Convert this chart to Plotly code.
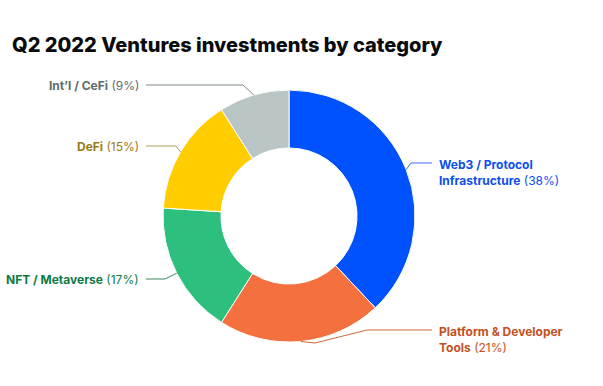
import math
import plotly.graph_objects as go

# ---- data ----
categories = ["Web3 / Protocol Infrastructure", "Platform & Developer Tools",
              "NFT / Metaverse", "DeFi", "Int'l / CeFi"]
values = [38, 21, 17, 15, 9]
label_bold = [["Web3 / Protocol", "Infrastructure"], ["Platform & Developer", "Tools"],
              ["NFT / Metaverse"], ["DeFi"], ["Int\u2019l / CeFi"]]
slice_colors = ["#0052FF", "#F4703F", "#2DBF7E", "#FFCD00", "#B9C6C5"]
text_colors = ["#0B4FEF", "#C4501E", "#0E7A46", "#9A7A17", "#5E6C6C"]
line_colors = ["#3B6FF0", "#D0683A", "#3A8A5E", "#B09A5A", "#7E8A8A"]

W, H = 603, 386
CX, CY, R = 289, 216, 126
HOLE = 0.54

# label layout (pixel positions of label text anchor / leader bend), per category
label_layout = [
    dict(side="right", tx=437, ty=163, bend=[(411, 163)]),
    dict(side="right", tx=437, ty=330, bend=[(315, 343), (367, 330)]),
    dict(side="left", tx=141, ty=279, bend=[(165, 279)]),
    dict(side="left", tx=141, ty=146, bend=[(176, 146)]),
    dict(side="left", tx=141, ty=85, bend=[(243, 85)]),
]

def px(x):
    return x / W

def py(y):
    return 1 - y / H

fig = go.Figure()
fig.add_trace(go.Pie(
    labels=categories, values=values, hole=HOLE, sort=False, direction="clockwise",
    rotation=0, marker=dict(colors=slice_colors, line=dict(color="white", width=1)),
    textinfo="none", hoverinfo="skip", showlegend=False,
    domain=dict(x=[px(CX - R), px(CX + R)], y=[py(CY + R), py(CY - R)]),
))

shapes = []
annotations = []
total = sum(values)
cum = 0
for i, v in enumerate(values):
    mid = (cum + v / 2) / total * 2 * math.pi
    cum += v
    ex = CX + R * math.sin(mid)
    ey = CY - R * math.cos(mid)
    L = label_layout[i]
    pts = [(ex, ey)] + L["bend"]
    if L["side"] == "left":
        pts.append((L["tx"] + 5, L["ty"]))
    else:
        pts.append((L["tx"] - 5, L["ty"]))
    path = "M " + " L ".join(f"{px(x):.5f},{py(y):.5f}" for x, y in pts)
    shapes.append(dict(type="path", path=path, xref="paper", yref="paper",
                       line=dict(color=line_colors[i], width=1)))
    parts = label_bold[i]
    pct = f"<span style='font-weight:400'>({v}%)</span>"
    if len(parts) == 1:
        text = f"<b>{parts[0]}</b> {pct}"
        yc = L["ty"]
    else:
        text = f"<b>{parts[0]}</b><br><b>{parts[1]}</b> {pct}"
        yc = L["ty"] + 9
    annotations.append(dict(
        x=px(L["tx"]), y=py(yc), xref="paper", yref="paper",
        xanchor="right" if L["side"] == "left" else "left", yanchor="middle",
        align="left", text=text, showarrow=False,
        font=dict(family="Inter", size=12, color=text_colors[i]),
    ))

annotations.append(dict(
    x=px(10), y=py(45), xref="paper", yref="paper", xanchor="left", yanchor="middle",
    text="Q2 2022 Ventures investments by category", showarrow=False,
    font=dict(family="Inter", size=20, color="#0A0B0D", weight=800),
))

fig.update_layout(
    width=W, height=H, margin=dict(l=0, r=0, t=0, b=0),
    paper_bgcolor="white", plot_bgcolor="white",
    shapes=shapes, annotations=annotations,
)
fig.write_html("out.html", config={"displayModeBar": False},
               post_script="document.body.style.margin='0';document.body.style.overflow='hidden';")
